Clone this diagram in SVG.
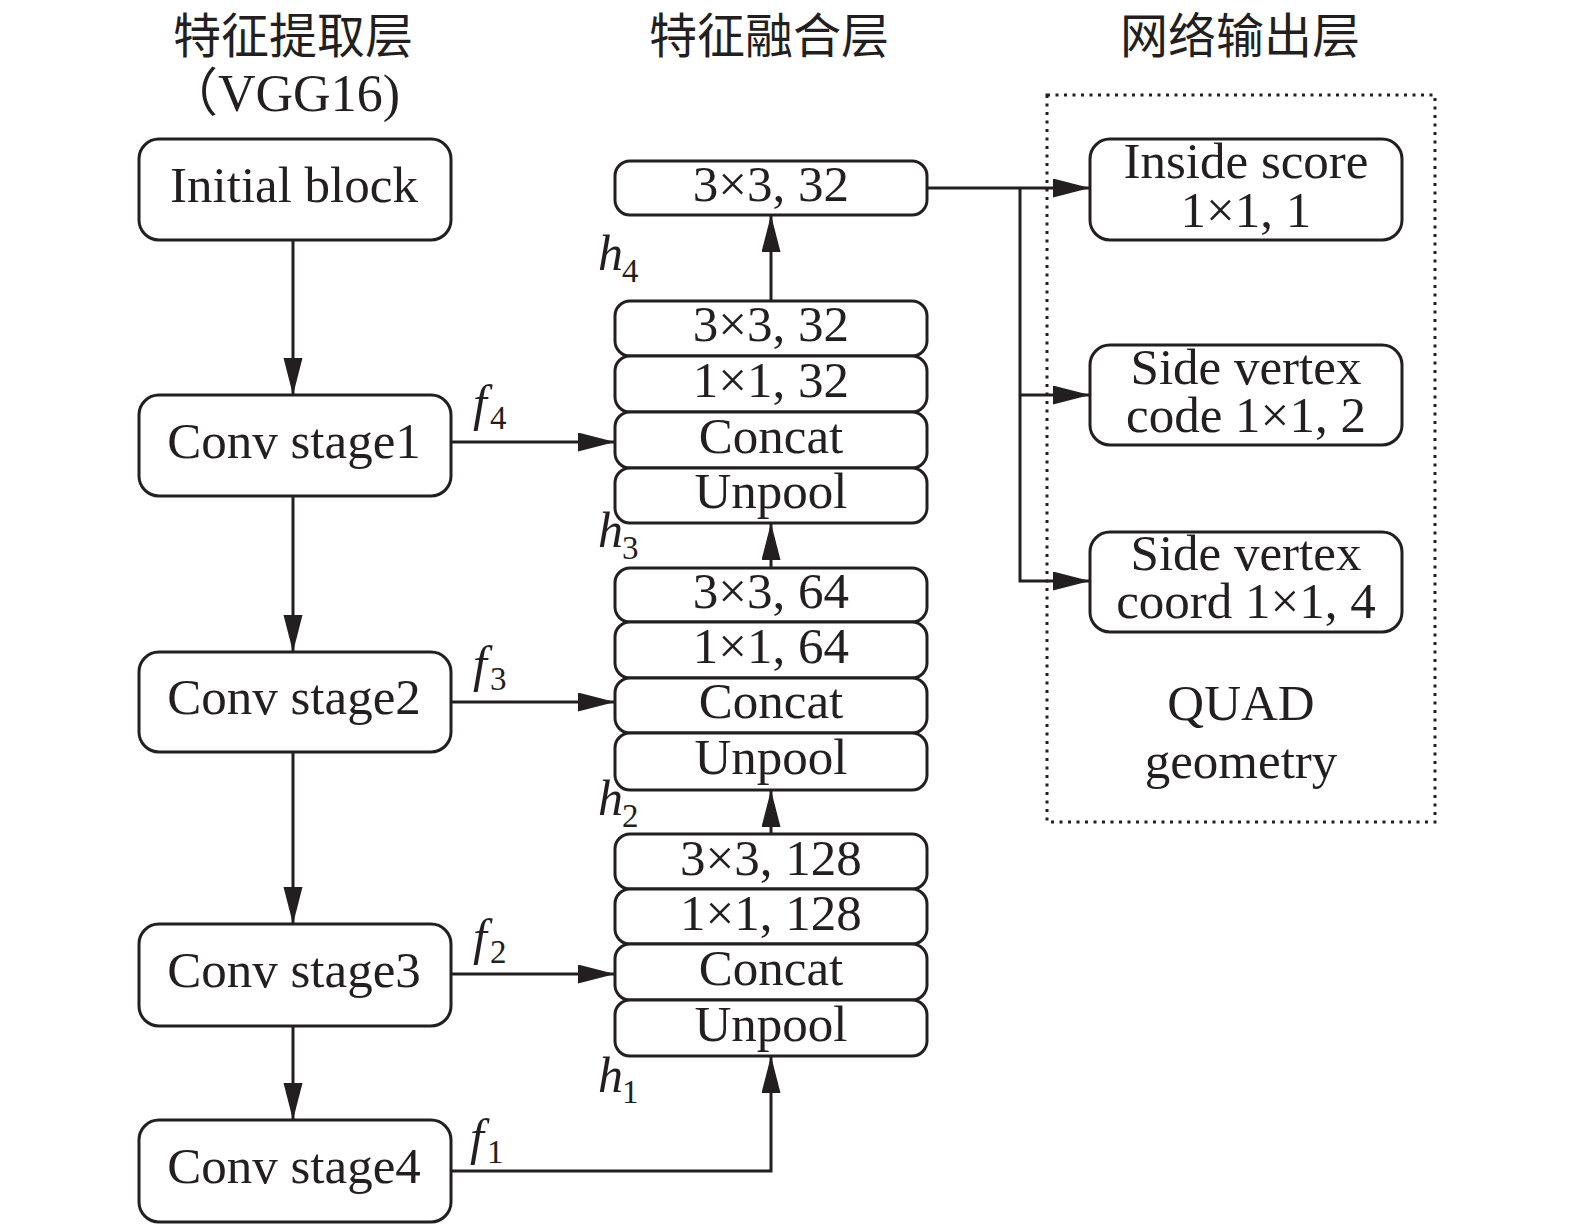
<svg xmlns="http://www.w3.org/2000/svg" width="1575" height="1227" viewBox="0 0 1575 1227">
<style>
.box{fill:#fff;stroke:#231f20;stroke-width:3}
.t{font-family:"Liberation Serif","Times New Roman",serif;font-size:51px;fill:#231f20;text-anchor:middle}
.cn{font-family:"Noto Sans CJK SC","Noto Sans CJK JP",sans-serif;font-size:48px;fill:#231f20;text-anchor:middle}
.it{font-family:"Liberation Serif","Times New Roman",serif;font-style:italic;font-size:50px;fill:#231f20}
.sub{font-family:"Liberation Serif","Times New Roman",serif;font-size:33px;fill:#231f20}
.ln{fill:none;stroke:#231f20;stroke-width:3}
.dot{fill:none;stroke:#231f20;stroke-width:3;stroke-dasharray:3 5.5}
</style>
<defs>
<marker id="ah" markerUnits="userSpaceOnUse" markerWidth="38" markerHeight="20" refX="37" refY="9.5" orient="auto" viewBox="0 0 38 20">
<path d="M0,0 L37,9.5 L0,19 Z" fill="#231f20"/>
</marker>
</defs>
<rect width="1575" height="1227" fill="#fff"/>

<g id="titles">
<text class="cn" x="293" y="53">特征提取层</text>
<text class="t" x="283" y="111" style="font-family:'Liberation Serif','Noto Sans CJK SC',serif;font-size:52px">（VGG16)</text>
<text class="cn" x="769" y="53">特征融合层</text>
<text class="cn" x="1240" y="53">网络输出层</text>
</g>

<g id="output-group">
<rect class="dot" x="1047" y="95" width="388" height="727"/>
<text class="t" x="1241" y="720">QUAD<tspan x="1241" y="778">geometry</tspan></text>
</g>

<g id="connectors">
<line class="ln" x1="293" y1="240" x2="293" y2="395" marker-end="url(#ah)"/>
<line class="ln" x1="293" y1="496" x2="293" y2="652" marker-end="url(#ah)"/>
<line class="ln" x1="293" y1="752" x2="293" y2="924" marker-end="url(#ah)"/>
<line class="ln" x1="293" y1="1026" x2="293" y2="1120" marker-end="url(#ah)"/>
<line class="ln" x1="451" y1="442" x2="615" y2="442" marker-end="url(#ah)"/>
<line class="ln" x1="451" y1="702" x2="615" y2="702" marker-end="url(#ah)"/>
<line class="ln" x1="451" y1="974" x2="615" y2="974" marker-end="url(#ah)"/>
<polyline class="ln" points="451,1171 771,1171 771,1056" marker-end="url(#ah)"/>
<line class="ln" x1="771" y1="834" x2="771" y2="790" marker-end="url(#ah)"/>
<line class="ln" x1="771" y1="568" x2="771" y2="523" marker-end="url(#ah)"/>
<line class="ln" x1="771" y1="301" x2="771" y2="215" marker-end="url(#ah)"/>
<line class="ln" x1="927" y1="188" x2="1090" y2="188" marker-end="url(#ah)"/>
<polyline class="ln" points="1020,188 1020,581 1090,581" marker-end="url(#ah)"/>
<line class="ln" x1="1020" y1="395" x2="1090" y2="395" marker-end="url(#ah)"/>
<text class="it" x="473" y="420">f</text><text class="sub" x="490" y="429">4</text>
<text class="it" x="473" y="681">f</text><text class="sub" x="490" y="690">3</text>
<text class="it" x="473" y="954">f</text><text class="sub" x="490" y="963">2</text>
<text class="it" x="470" y="1154">f</text><text class="sub" x="487" y="1163">1</text>
<text class="it" x="598" y="270">h</text><text class="sub" x="622" y="282">4</text>
<text class="it" x="598" y="547">h</text><text class="sub" x="622" y="559">3</text>
<text class="it" x="598" y="815">h</text><text class="sub" x="622" y="827">2</text>
<text class="it" x="598" y="1092">h</text><text class="sub" x="622" y="1103">1</text>
</g>

<g id="initial-block"><rect class="box" x="139" y="139" width="312" height="101" rx="20"/><text class="t" x="294" y="202">Initial block</text></g>
<g id="conv-stage1"><rect class="box" x="139" y="395" width="312" height="101" rx="20"/><text class="t" x="294" y="458">Conv stage1</text></g>
<g id="conv-stage2"><rect class="box" x="139" y="652" width="312" height="100" rx="20"/><text class="t" x="294" y="714">Conv stage2</text></g>
<g id="conv-stage3"><rect class="box" x="139" y="924" width="312" height="102" rx="20"/><text class="t" x="294" y="987">Conv stage3</text></g>
<g id="conv-stage4"><rect class="box" x="139" y="1120" width="312" height="102" rx="20"/><text class="t" x="294" y="1183">Conv stage4</text></g>

<g id="fuse-out"><rect class="box" x="615" y="161" width="312" height="54" rx="15"/><text class="t" x="771" y="201">3×3, 32</text></g>

<g id="fuse-3x3-32"><rect class="box" x="615" y="301" width="312" height="55" rx="15"/><text class="t" x="771" y="341">3×3, 32</text></g>
<g id="fuse-1x1-32"><rect class="box" x="615" y="356" width="312" height="56" rx="15"/><text class="t" x="771" y="397">1×1, 32</text></g>
<g id="fuse-concat-1"><rect class="box" x="615" y="412" width="312" height="56" rx="15"/><text class="t" x="771" y="453">Concat</text></g>
<g id="fuse-unpool-1"><rect class="box" x="615" y="468" width="312" height="55" rx="15"/><text class="t" x="771" y="508">Unpool</text></g>

<g id="fuse-3x3-64"><rect class="box" x="615" y="568" width="312" height="54" rx="15"/><text class="t" x="771" y="608">3×3, 64</text></g>
<g id="fuse-1x1-64"><rect class="box" x="615" y="622" width="312" height="56" rx="15"/><text class="t" x="771" y="663">1×1, 64</text></g>
<g id="fuse-concat-2"><rect class="box" x="615" y="678" width="312" height="55" rx="15"/><text class="t" x="771" y="718">Concat</text></g>
<g id="fuse-unpool-2"><rect class="box" x="615" y="733" width="312" height="57" rx="15"/><text class="t" x="771" y="774">Unpool</text></g>

<g id="fuse-3x3-128"><rect class="box" x="615" y="834" width="312" height="55" rx="15"/><text class="t" x="771" y="875">3×3, 128</text></g>
<g id="fuse-1x1-128"><rect class="box" x="615" y="889" width="312" height="55" rx="15"/><text class="t" x="771" y="930">1×1, 128</text></g>
<g id="fuse-concat-3"><rect class="box" x="615" y="944" width="312" height="56" rx="15"/><text class="t" x="771" y="985">Concat</text></g>
<g id="fuse-unpool-3"><rect class="box" x="615" y="1000" width="312" height="56" rx="15"/><text class="t" x="771" y="1041">Unpool</text></g>

<g id="inside-score"><rect class="box" x="1090" y="139" width="312" height="101" rx="20"/><text class="t" x="1246" y="178">Inside score<tspan x="1246" y="227">1×1, 1</tspan></text></g>
<g id="side-vertex-code"><rect class="box" x="1090" y="345" width="312" height="100" rx="20"/><text class="t" x="1246" y="384">Side vertex<tspan x="1246" y="432">code 1×1, 2</tspan></text></g>
<g id="side-vertex-coord"><rect class="box" x="1090" y="532" width="312" height="100" rx="20"/><text class="t" x="1246" y="570">Side vertex<tspan x="1246" y="618">coord 1×1, 4</tspan></text></g>
</svg>
